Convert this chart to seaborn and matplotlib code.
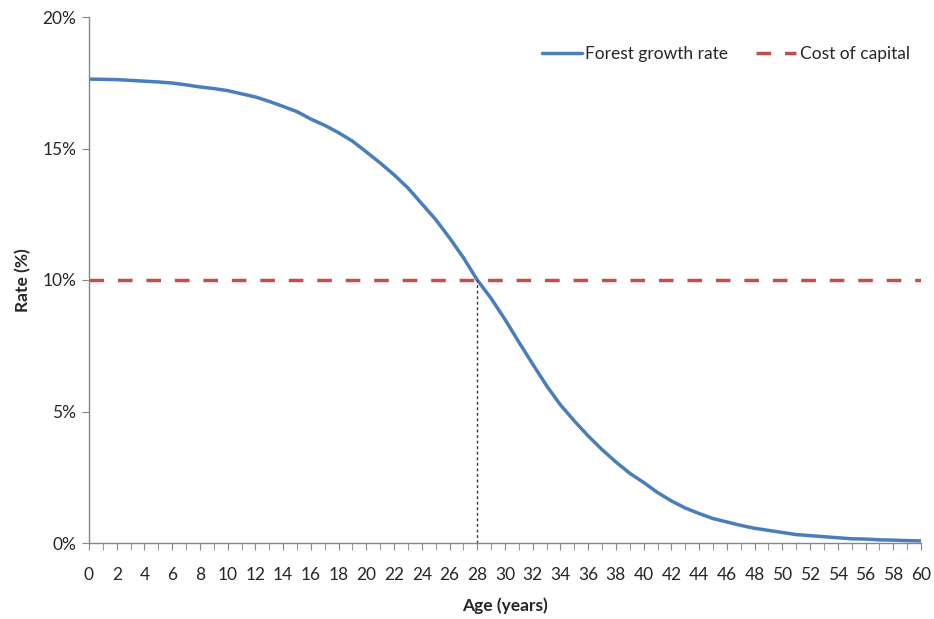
import numpy as np
import pandas as pd
import matplotlib
matplotlib.use("Agg")
import matplotlib.pyplot as plt
import seaborn as sns
from matplotlib.ticker import MultipleLocator, FuncFormatter

# Values (rate in %)
ages = list(range(0, 61))
growth_rate = [17.64, 17.63, 17.62, 17.59, 17.56, 17.53, 17.49, 17.42, 17.34, 17.28,
               17.20, 17.08, 16.96, 16.79, 16.60, 16.40, 16.12, 15.88, 15.60, 15.28,
               14.87, 14.45, 14.00, 13.50, 12.90, 12.30, 11.60, 10.85, 10.00, 9.30,
               8.50, 7.64, 6.80, 5.98, 5.25, 4.64, 4.07, 3.55, 3.08, 2.65,
               2.30, 1.92, 1.60, 1.33, 1.12, 0.93, 0.80, 0.67, 0.56, 0.48,
               0.40, 0.32, 0.28, 0.24, 0.20, 0.16, 0.15, 0.12, 0.11, 0.09, 0.08]
cost_of_capital = [10.0] * len(ages)
optimal_age = 28
optimal_rate = 10.0

df = pd.DataFrame({"age": ages, "growth": growth_rate, "cost": cost_of_capital})

sns.set_style("white")
plt.rcParams['font.family'] = ['Lato', 'DejaVu Sans']

fig = plt.figure(figsize=(9.34, 6.19), dpi=100)
ax = fig.add_axes([89 / 934, 1 - 543 / 619, (921 - 89) / 934, (543 - 17) / 619])

sns.lineplot(data=df, x="age", y="growth", ax=ax, color="#4A7EBB", linewidth=2.5,
             label="Forest growth rate")
sns.lineplot(data=df, x="age", y="cost", ax=ax, color="#C0504D", linewidth=2.5,
             linestyle=(0, (4.2, 4)), label="Cost of capital")
ax.vlines(optimal_age, 0, optimal_rate, colors="#333333", linestyles=(0, (2, 2)), linewidth=1)

ax.set_xlim(0, 60)
ax.set_ylim(0, 20)
ax.xaxis.set_major_locator(MultipleLocator(2))
ax.xaxis.set_minor_locator(MultipleLocator(1))
ax.yaxis.set_major_locator(MultipleLocator(5))
ax.yaxis.set_major_formatter(FuncFormatter(lambda v, p: f"{v:.0f}%"))

for side in ["top", "right"]:
    ax.spines[side].set_visible(False)
for side in ["left", "bottom"]:
    ax.spines[side].set_color("#868686")
    ax.spines[side].set_linewidth(1)

ax.tick_params(axis="x", which="both", direction="out", length=5, color="#868686",
               bottom=True, labelsize=12.5, pad=12)
ax.tick_params(axis="y", which="major", direction="out", length=5, color="#868686",
               left=True, labelsize=12.5, pad=4)

ax.set_xlabel("Age (years)", fontsize=12.5, fontweight="bold", labelpad=11)
ax.set_ylabel("Rate (%)", fontsize=12.5, fontweight="bold", labelpad=8)

ax.legend(loc="upper right", bbox_to_anchor=(1.005, 0.975), ncol=2, frameon=False,
          fontsize=12.5, handlelength=2.3, columnspacing=1.6, handletextpad=0.2)

fig.savefig("out.png", dpi=100)
